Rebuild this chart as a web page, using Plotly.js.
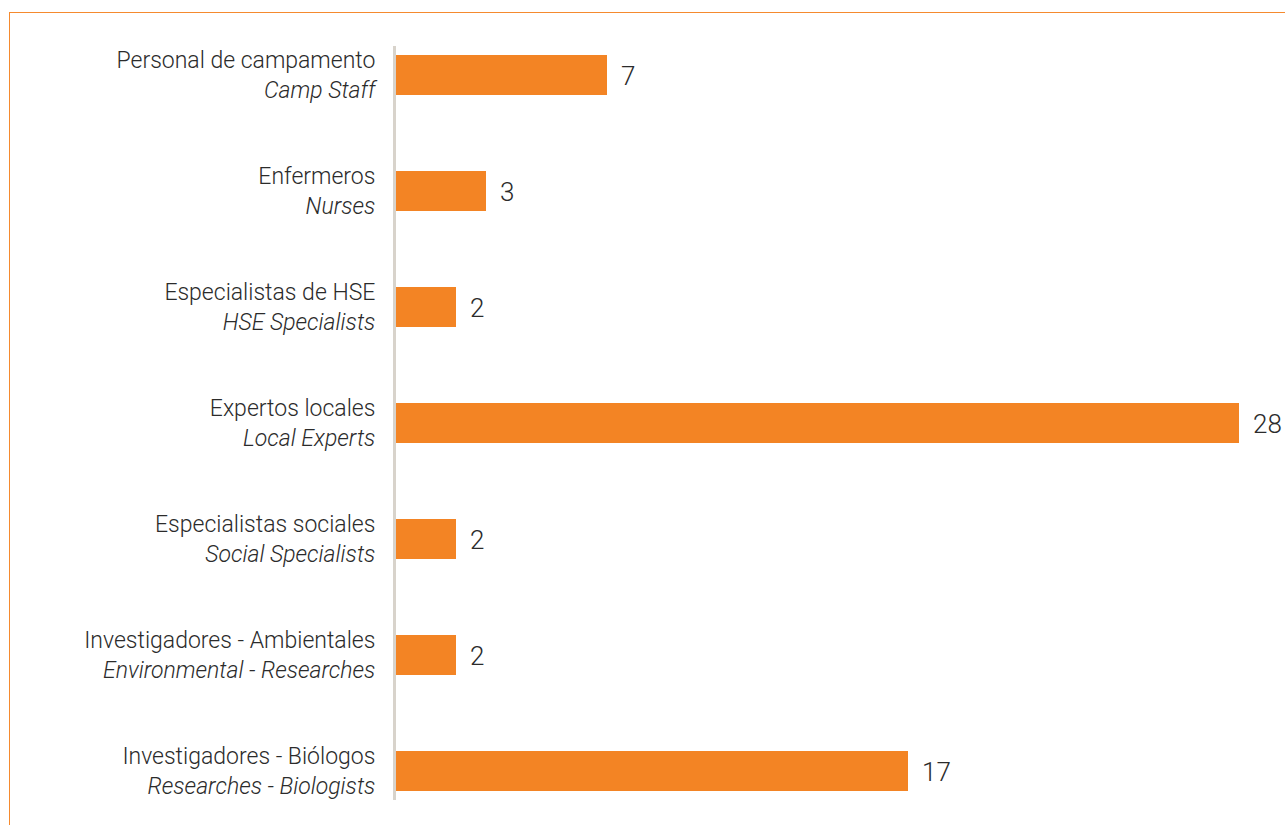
<!DOCTYPE html>
<html>
<head>
<meta charset="utf-8">
<script src="https://cdn.plot.ly/plotly-3.0.1.min.js"></script>
<style>
  body { margin: 0; background: #fff; }
  #frame {
    position: absolute; left: 9px; top: 12px;
    width: 1276px; height: 813px;
    border-top: 1px solid #f58a2e; border-left: 1px solid #f58a2e;
  }
  #bar_chart_div { width: 1275px; height: 812px; }
</style>
</head>
<body>
<div id="frame"><div id="bar_chart_div"></div></div>
<script>
// categories, top to bottom
var labels_es = ['Personal de campamento', 'Enfermeros', 'Especialistas de HSE', 'Expertos locales',
                 'Especialistas sociales', 'Investigadores - Ambientales', 'Investigadores - Biólogos'];
var labels_en = ['Camp Staff', 'Nurses', 'HSE Specialists', 'Local Experts',
                 'Social Specialists', 'Environmental - Researches', 'Researches - Biologists'];
var staff_count = [7, 3, 2, 28, 2, 2, 17];

var orange = 'rgb(243, 132, 36)';

function plot_bar_chart()
{
    var positions = labels_es.map(function (d, i) { return i; });
    var tick_text = labels_es.map(function (d, i) {
        return d + '<br><i>' + labels_en[i] + '</i>';
    });

    var bar_trace = {
        type: 'bar',
        orientation: 'h',
        x: staff_count,
        y: positions,
        width: 0.345,
        marker: { color: orange, line: { width: 0 } },
        hoverinfo: 'none'
    };

    // value labels next to each bar
    var annotations = staff_count.map(function (v, i) {
        return {
            x: v, y: i, xref: 'x', yref: 'y',
            text: String(v), showarrow: false,
            xanchor: 'left', xshift: 12, yshift: -1,
            font: { family: 'Roboto', size: 26, weight: 300, color: '#2b2b2b' }
        };
    });

    var layout = {
        width: 1275,
        height: 812,
        margin: { l: 386, r: 46, t: 33, b: 25 },
        paper_bgcolor: '#fff',
        plot_bgcolor: '#fff',
        showlegend: false,
        bargap: 0,
        xaxis: {
            range: [0, 28],
            visible: false,
            fixedrange: true
        },
        yaxis: {
            range: [6.25, -0.25],
            tickvals: positions,
            ticktext: tick_text,
            showgrid: false,
            zeroline: false,
            showline: true,
            linecolor: '#d8d3cb',
            linewidth: 3,
            ticks: 'outside',
            ticklen: 13,
            tickcolor: 'rgba(0,0,0,0)',
            tickfont: { family: 'Roboto', size: 23, weight: 300, color: '#2b2b2b' },
            fixedrange: true
        },
        annotations: annotations
    };

    Plotly.newPlot('bar_chart_div', [bar_trace], layout, { displayModeBar: false, staticPlot: true });
}

plot_bar_chart();
</script>
</body>
</html>
